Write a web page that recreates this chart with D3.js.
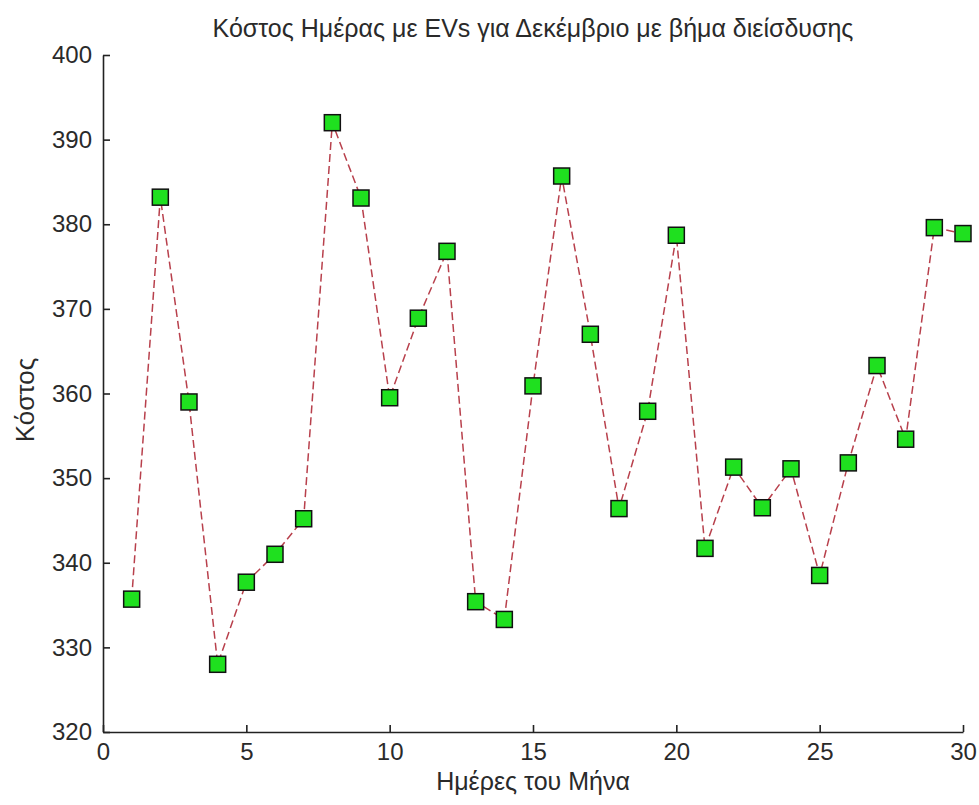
<!DOCTYPE html>
<html><head><meta charset="utf-8">
<script src="https://cdn.jsdelivr.net/npm/d3@7"></script>
<style>
html,body{margin:0;padding:0;background:#fff;}
text{font-family:"Liberation Sans",Arial,sans-serif;fill:#2a2a2a;}
</style></head>
<body>
<svg id="chart" width="979" height="805"></svg>
<script>
const days = [1,2,3,4,5,6,7,8,9,10,11,12,13,14,15,16,17,18,19,20,21,22,23,24,25,26,27,28,29,30];
const cost = [335.7,383.2,359.0,328.0,337.7,341.0,345.2,392.0,383.1,359.5,368.9,376.8,335.4,333.3,360.9,385.7,367.0,346.4,357.9,378.7,341.7,351.3,346.5,351.1,338.5,351.8,363.3,354.6,379.6,378.9];
const xTicks = [0,5,10,15,20,25,30];
const yTicks = [320,330,340,350,360,370,380,390,400];
const titleText = "Κόστος Ημέρας με EVs για Δεκέμβριο με βήμα διείσδυσης";
const xLabel = "Ημέρες του Μήνα";
const yLabel = "Κόστος";

const svg = d3.select("#chart");
const L = 103, R = 963, T = 55, B = 732;
const x = d3.scaleLinear().domain([0,30]).range([L,R]);
const y = d3.scaleLinear().domain([320,400]).range([B,T]);

const fs = 24;
// axes
const xAxis = svg.append("g").attr("transform",`translate(0,${B})`)
  .call(d3.axisBottom(x).tickValues(xTicks).tickSizeInner(-7).tickSizeOuter(0).tickPadding(11));
const yAxis = svg.append("g").attr("transform",`translate(${L},0)`)
  .call(d3.axisLeft(y).tickValues(yTicks).tickSizeInner(-7).tickSizeOuter(0).tickPadding(11));
[xAxis,yAxis].forEach(g=>{
  g.select(".domain").attr("stroke","#222").attr("stroke-width",1.6);
  g.selectAll(".tick line").attr("stroke","#222").attr("stroke-width",1.6);
  g.selectAll(".tick text").attr("font-size",fs).attr("font-family","Liberation Sans, Arial, sans-serif").attr("fill","#2a2a2a");
});

// line
svg.append("path").datum(days.map((d,i)=>[d,cost[i]]))
  .attr("fill","none").attr("stroke","#b8404c").attr("stroke-width",1.5)
  .attr("stroke-dasharray","8,4")
  .attr("d", d3.line().x(d=>x(d[0])).y(d=>y(d[1])));

// markers
const ms = 16;
svg.append("g").selectAll("rect").data(days.map((d,i)=>[d,cost[i]])).join("rect")
  .attr("x",d=>x(d[0])-ms/2).attr("y",d=>y(d[1])-ms/2)
  .attr("width",ms).attr("height",ms)
  .attr("fill","#1fe01f").attr("stroke","#111").attr("stroke-width",1.5);

// labels
svg.append("text").attr("x",(L+R)/2).attr("y",37).attr("text-anchor","middle")
  .attr("font-size",25).text(titleText);
svg.append("text").attr("x",(L+R)/2).attr("y",790).attr("text-anchor","middle")
  .attr("font-size",25).text(xLabel);
svg.append("text").attr("transform",`translate(34,400) rotate(-90)`).attr("text-anchor","middle")
  .attr("font-size",26).text(yLabel);
</script>
</body></html>
